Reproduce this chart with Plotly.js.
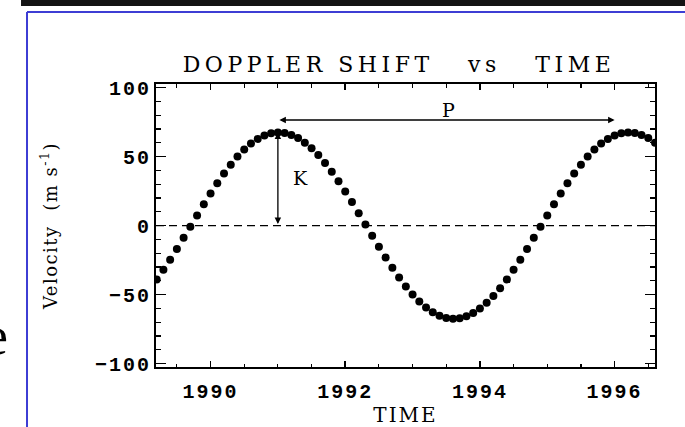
<!DOCTYPE html>
<html>
<head>
<meta charset="utf-8">
<script src="https://cdn.plot.ly/plotly-3.0.1.min.js"></script>
<style>
  html, body { margin: 0; padding: 0; background: #fff; }
  #chart { width: 685px; height: 427px; }
  .gtitle { letter-spacing: 4.5px; }
  .xtitle { letter-spacing: 2px; }
  .ytitle { letter-spacing: 1.5px; }
  .xtick text, .ytick text { letter-spacing: 2px; }
</style>
</head>
<body>
<div id="chart"></div>
<script>
// Observation times (years)
const times = [1989.2,1989.3,1989.4,1989.5,1989.6,1989.7,1989.8,1989.9,1990.0,1990.1,
  1990.2,1990.3,1990.4,1990.5,1990.6,1990.7,1990.8,1990.9,1991.0,1991.1,
  1991.2,1991.3,1991.4,1991.5,1991.6,1991.7,1991.8,1991.9,1992.0,1992.1,
  1992.2,1992.3,1992.4,1992.5,1992.6,1992.7,1992.8,1992.9,1993.0,1993.1,
  1993.2,1993.3,1993.4,1993.5,1993.6,1993.7,1993.8,1993.9,1994.0,1994.1,
  1994.2,1994.3,1994.4,1994.5,1994.6,1994.7,1994.8,1994.9,1995.0,1995.1,
  1995.2,1995.3,1995.4,1995.5,1995.6,1995.7,1995.8,1995.9,1996.0,1996.1,
  1996.2,1996.3,1996.4,1996.5,1996.6];
// Radial velocity (m/s)
const velocity = [-39.0,-32.1,-24.7,-16.9,-8.9,-0.8,7.3,15.4,23.2,30.6,
  37.7,44.1,50.0,55.1,59.4,62.8,65.3,66.9,67.5,67.1,
  65.7,63.4,60.1,56.0,51.1,45.4,39.0,32.1,24.7,17.0,
  9.0,0.8,-7.3,-15.4,-23.2,-30.6,-37.7,-44.1,-50.0,-55.1,
  -59.4,-62.8,-65.3,-66.9,-67.5,-67.1,-65.7,-63.4,-60.1,-56.0,
  -51.1,-45.4,-39.0,-32.1,-24.7,-16.9,-8.9,-0.8,7.3,15.4,
  23.2,30.6,37.7,44.1,50.0,55.1,59.4,62.8,65.3,66.9,
  67.5,67.1,65.7,63.4,60.1];
// Annotation values
const periodStart = 1991.0, periodEnd = 1996.0, periodLevel = 76.5;
const kTime = 1991.0, kAmplitude = 67.5;
const labelP = {x: 1993.53, y: 84, text: 'P'};
const labelK = {x: 1991.34, y: 34.6, text: 'K'};
const xRange = [1989.19, 1996.6];
const yRange = [-102.5, 102.6];

const tickFont = {family: 'Liberation Mono', size: 20, color: '#000', weight: 'bold'};
const serif = 'DejaVu Serif';

const trace = {
  x: times, y: velocity, type: 'scatter', mode: 'markers',
  marker: {color: '#000', size: 8, symbol: 'circle'},
  hoverinfo: 'skip', showlegend: false
};

const layout = {
  width: 685, height: 427,
  margin: {l: 156, r: 30, t: 84, b: 60},
  paper_bgcolor: '#fff', plot_bgcolor: '#fff',
  title: {
    text: 'DOPPLER SHIFT\u00A0\u00A0\u00A0vs\u00A0\u00A0\u00A0TIME',
    font: {family: serif, size: 22, color: '#000'},
    xref: 'paper', x: 0.487, xanchor: 'center',
    yref: 'container', y: 1 - 64/427, yanchor: 'middle'
  },
  xaxis: {
    range: xRange, tickmode: 'linear', tick0: 1990, dtick: 2,
    ticks: 'inside', ticklen: 6, tickwidth: 1.5, tickcolor: '#000',
    minor: {dtick: 0.5, tick0: 1990, ticks: 'inside', ticklen: 3.5, tickwidth: 1.2, tickcolor: '#000'},
    showline: true, linewidth: 2, linecolor: '#000', mirror: 'ticks',
    showgrid: false, zeroline: false,
    tickfont: tickFont, ticklabelstandoff: 5,
    title: {text: 'TIME', font: {family: serif, size: 20, color: '#000'}, standoff: 7}
  },
  yaxis: {
    range: yRange, tickmode: 'linear', tick0: 0, dtick: 50,
    ticks: 'inside', ticklen: 10, tickwidth: 1.5, tickcolor: '#000',
    minor: {dtick: 10, tick0: 0, ticks: 'inside', ticklen: 5, tickwidth: 1.2, tickcolor: '#000'},
    showline: true, linewidth: 2, linecolor: '#000', mirror: 'ticks',
    showgrid: false, zeroline: false,
    tickfont: tickFont, ticklabelstandoff: -1,
    title: {text: 'Velocity\u00A0\u00A0(m s<sup>-1</sup>)', font: {family: serif, size: 18, color: '#000'}, standoff: 33}
  },
  shapes: [
    {type: 'line', xref: 'paper', x0: 0, x1: 1, yref: 'y', y0: 0, y1: 0,
     line: {color: '#000', width: 1.3, dash: '8px,5px'}},
    // slide decoration: black bar and blue frame
    {type: 'rect', xref: 'paper', yref: 'paper', x0: -0.2705, x1: 1.07, y0: 1.2756, y1: 1.31,
     fillcolor: '#141414', line: {width: 0}, layer: 'above'},
    {type: 'line', xref: 'paper', yref: 'paper', x0: -0.2585, x1: 1.07, y0: 1.2544, y1: 1.2544,
     line: {color: '#3d3dd4', width: 2}},
    {type: 'line', xref: 'paper', yref: 'paper', x0: -0.2585, x1: -0.2585, y0: 1.2544, y1: -0.25,
     line: {color: '#3d3dd4', width: 2}}
  ],
  annotations: [
    {x: periodEnd, y: periodLevel, ax: periodStart, ay: periodLevel, xref: 'x', yref: 'y', axref: 'x', ayref: 'y',
     text: '', showarrow: true, arrowside: 'end+start', arrowhead: 2, startarrowhead: 2,
     arrowsize: 1, startarrowsize: 1, arrowwidth: 1.3, arrowcolor: '#000'},
    {x: kTime, y: kAmplitude, ax: kTime, ay: 0, xref: 'x', yref: 'y', axref: 'x', ayref: 'y',
     text: '', showarrow: true, arrowside: 'end+start', arrowhead: 2, startarrowhead: 2,
     arrowsize: 1, startarrowsize: 1, arrowwidth: 1.3, arrowcolor: '#000'},
    {x: labelP.x, y: labelP.y, xref: 'x', yref: 'y', text: labelP.text, showarrow: false,
     font: {family: serif, size: 19, color: '#000'}},
    {x: labelK.x, y: labelK.y, xref: 'x', yref: 'y', text: labelK.text, showarrow: false,
     font: {family: serif, size: 19, color: '#000'}},
    {x: -0.3206, y: 0.1095, xref: 'paper', yref: 'paper', xanchor: 'center', yanchor: 'middle',
     text: 'e', showarrow: false, font: {family: 'Liberation Serif', size: 54, color: '#000'}}
  ]
};

Plotly.newPlot('chart', [trace], layout, {displayModeBar: false, staticPlot: true});
</script>
</body>
</html>
